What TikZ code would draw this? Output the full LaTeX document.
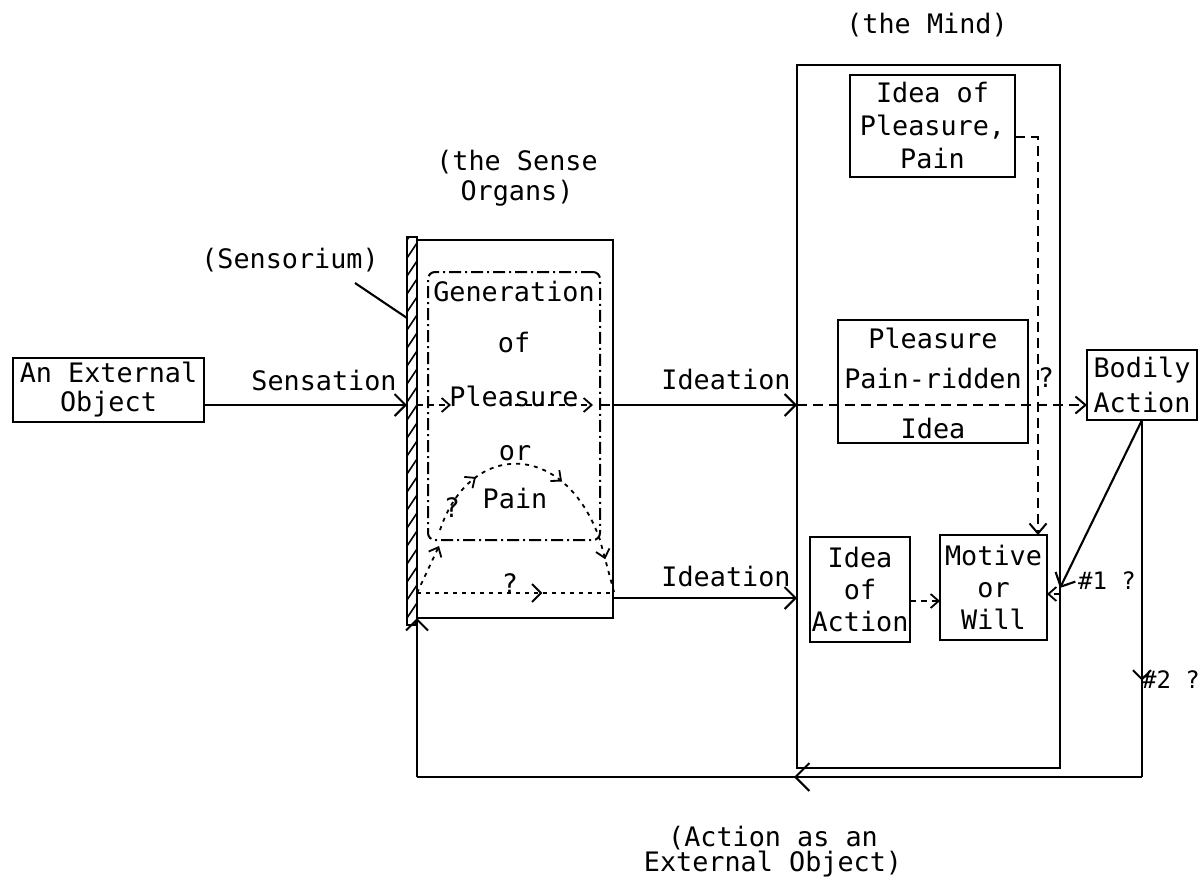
\documentclass[tikz,border=0pt]{standalone}
\usepackage{fontspec}
\setmainfont{DejaVu Sans Mono}
\usetikzlibrary{arrows.meta,decorations.markings,calc}
\begin{document}
\begin{tikzpicture}[x=1pt,y=-1pt,
  every node/.style={inner sep=0pt, outer sep=0pt, font=\fontsize{26.8}{31}\selectfont},
  box/.style={draw, line width=2.5pt},
  sol/.style={line width=2.1pt},
  arr/.style={sol, -{Straight Barb[length=11pt,width=22pt]}},
  dsh/.style={line width=2pt, dash pattern=on 10pt off 6pt},
  darr/.style={dsh, -{Straight Barb[length=10pt,width=17pt]}},
  darrs/.style={line width=1.8pt, dash pattern=on 6pt off 5pt, -{Straight Barb[length=8pt,width=14pt]}},
  dot/.style={line width=1.8pt, dash pattern=on 4pt off 5pt},
  midarr/.style 2 args={postaction={decorate}, decoration={markings,
     mark=at position #1 with {\arrow[line width=2pt]{Straight Barb[length=#2pt,width=2*#2pt]}}}},
  small/.style={font=\fontsize{24}{28}\selectfont}
]
\useasboundingbox (0,0) rectangle (1202,887);

% boxes
\node[box, minimum width=191pt, minimum height=64pt, align=center,
      font=\fontsize{26.8}{29}\selectfont] (ext) at (108.5,390) {An External\\Object};
\node[draw, line width=1.8pt, minimum width=10pt, minimum height=388pt] (bar) at (412,431) {};
\begin{scope}
  \clip (bar.south west) rectangle (bar.north east);
  \foreach \yy in {240,258,...,640} \draw[line width=1.6pt] (407,\yy) -- (417,\yy-15);
\end{scope}
\node[box, minimum width=196pt, minimum height=378pt] (sense) at (515,429) {};
\node[draw, line width=2pt, dash pattern=on 12pt off 4pt on 2pt off 4pt, rounded corners=7pt,
      minimum width=172pt, minimum height=268pt] (inner) at (514,406) {};
\node[box, minimum width=263pt, minimum height=703pt] (mind) at (928.5,416.5) {};
\node[box, minimum width=165pt, minimum height=102pt, align=center,
      font=\fontsize{26.8}{33}\selectfont] (ipp) at (932.5,126) {Idea of\\Pleasure,\\Pain};
\node[box, minimum width=190pt, minimum height=123pt] (ppr) at (933,381.5) {};
\node (ppr1) at (933,338) {Pleasure};
\node (ppr2) at (933,378) {Pain-ridden};
\node (ppr3) at (933,428) {Idea};
\node[box, minimum width=110pt, minimum height=70pt, align=center,
      font=\fontsize{26.8}{35}\selectfont] (bodily) at (1142,385) {Bodily\\Action};
\node[box, minimum width=100pt, minimum height=105pt, align=center,
      font=\fontsize{26.8}{32}\selectfont] (ioa) at (860,589.5) {Idea\\of\\Action};
\node[box, minimum width=107pt, minimum height=105pt, align=center,
      font=\fontsize{26.8}{32}\selectfont] (motive) at (993.5,587.5) {Motive\\or\\Will};

% texts in the sense organs
\node (g1) at (514,292) {Generation};
\node (g2) at (514,343) {of};
\node (g3) at (514,396) {Pleasure};
\node (g4) at (515,453) {or};
\node (g5) at (515,498) {Pain};
\node (q1) at (452,508) {?};
\node (q2) at (510,584) {?};
\node (q3) at (1046,378) {?};

% labels
\node (tmind) at (927,25) {(the Mind)};
\node[align=center, font=\fontsize{26.8}{30}\selectfont] (tsense) at (517,178) {(the Sense\\Organs)};
\node (tsens) at (290,260) {(Sensorium)};
\node (tsensation) at (324,381) {Sensation};
\node (tid1) at (726,380) {Ideation};
\node (tid2) at (726,576) {Ideation};
\node[small] (t1) at (1107,581) {\#1 ?};
\node[small] (t2) at (1171,680) {\#2 ?};
\node[align=center, font=\fontsize{26.8}{21}\selectfont] (tcap) at (773,852) {(Action as an\\External Object)};

% coordinates
\coordinate (yS) at (0,405);
\coordinate (yL) at (0,598);
\coordinate (yB) at (0,593);
\coordinate (yA) at (0,601);
\coordinate (yD) at (0,588);
\coordinate (yM) at (0,594);
\coordinate (yLoop) at (0,777);
\coordinate (leadA) at (355,283);
\coordinate (leadB) at (0,318);
\coordinate (pin) at (451,405);
\coordinate (pmid) at (515,405);
\coordinate (pout) at (593,405);
\coordinate (rB) at (439,546);
\coordinate (a0) at (440,530);
\coordinate (a1) at (600,540);
\coordinate (a2) at (614,592);
\coordinate (dv) at (1038,137);

% sensorium leader
\draw[sol] (leadA) -- (bar.west |- leadB);

% sensation
\draw[arr] (ext.east |- yS) -- (bar.west |- yS);
\draw[darrs] (bar.east |- yS) -- (pin);
\draw[darrs] (pmid) -- (pout);
\draw[dsh] (inner.east |- yS) -- (sense.east |- yS);

% ideation
\draw[arr] (sense.east |- yS) -- (mind.west |- yS);
\draw[darr] (mind.west |- yS) -- (bodily.west |- yS);
\draw[arr] (sense.east |- yL) -- (mind.west |- yL);

% inside sense organs
\draw[dot, midarr={0.64}{9}] (bar.east |- yB) -- (sense.east |- yB);
\draw[dot, -{Straight Barb[length=8pt,width=14pt]}] (bar.east |- yB) -- (rB);
\draw[dot, postaction={decorate}, decoration={markings,
   mark=at position 0.23 with {\arrow[line width=1.8pt]{Straight Barb[length=8pt,width=14pt]}},
   mark=at position 0.56 with {\arrow[line width=1.8pt]{Straight Barb[length=8pt,width=14pt]}},
   mark=at position 0.88 with {\arrow[line width=1.8pt]{Straight Barb[length=8pt,width=14pt]}}}]
   (a0) .. controls (470,440) and (565,440) .. (a1) -- (a2);

% mind
\draw[darr] (ipp.east |- dv) -- (dv) -- (dv |- motive.north);
\draw[darrs] (ioa.east |- yA) -- (motive.west |- yA);
\draw[arr] (bodily.south) -- (mind.east |- yD);
\draw[darrs] (mind.east |- yM) -- (motive.east |- yM);

% loop
\draw[sol, midarr={0.73}{9}] (bodily.south) -- (bodily.south |- yLoop);
\draw[sol, midarr={0.48}{14}] (bodily.south |- yLoop) -- (sense.south west |- yLoop);
\draw[arr] (sense.south west |- yLoop) -- (sense.south west);
\end{tikzpicture}
\end{document}
